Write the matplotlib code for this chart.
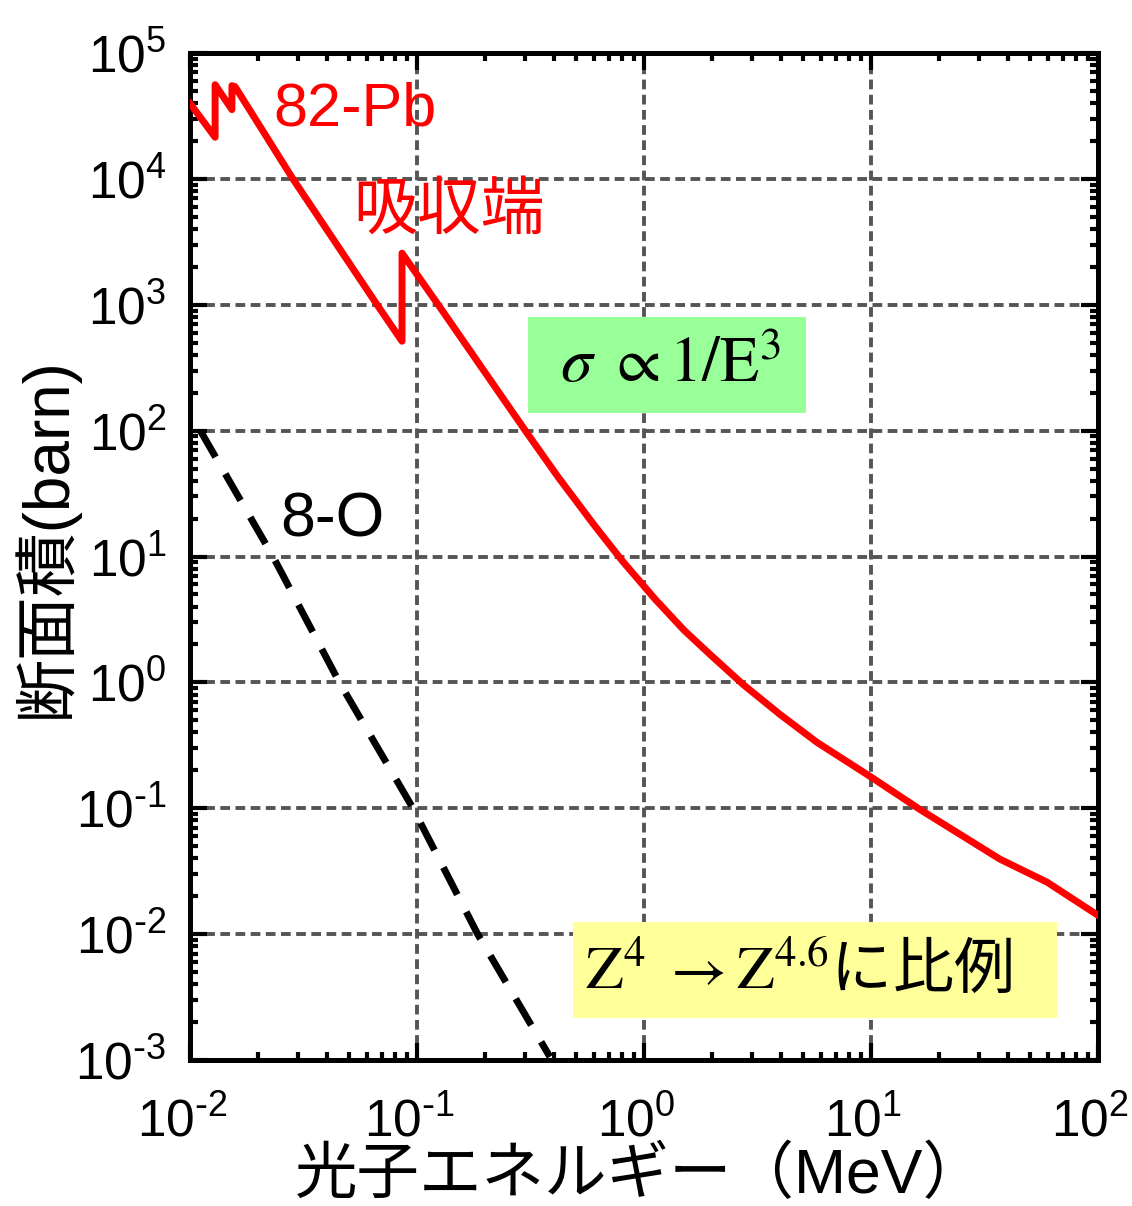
import numpy as np
import matplotlib
matplotlib.use("Agg")
import matplotlib.pyplot as plt
import matplotlib.transforms as mtransforms
from matplotlib.patches import Rectangle
from matplotlib.ticker import LogLocator, FuncFormatter, NullFormatter

plt.rcParams['font.family'] = ['Liberation Sans', 'Noto Sans CJK JP', 'DejaVu Sans']
plt.rcParams['axes.unicode_minus'] = False

# Pb photoelectric cross section (MeV, barn), L and K edges included
pb_energy = [0.0100, 0.0129, 0.0129, 0.0153, 0.0153, 0.0158, 0.0284, 0.0667, 0.0859,
             0.0859, 0.124, 0.300, 0.420, 0.600, 0.800, 1.117, 1.50, 1.954, 2.73,
             3.97, 5.78, 9.91, 16.4, 37.0, 59.6, 100.0]
pb_sigma = [3.98e4, 2.14e4, 5.6e4, 3.55e4, 5.5e4, 5.4e4, 1.0e4, 1.0e3, 513,
            2570, 1.0e3, 100, 42.4, 18.0, 9.29, 4.6, 2.6, 1.667, 0.964,
            0.557, 0.334, 0.179, 0.098, 0.0394, 0.0259, 0.0141]

# O photoelectric cross section
o_energy = [0.0111, 0.0232, 0.0455, 0.096, 0.185, 0.385]
o_sigma = [100, 10, 1, 0.1, 0.01, 0.00106]

xlim = (1e-2, 1e2)
ylim = (1e-3, 1e5)

fig = plt.figure(figsize=(11.32, 12.06), dpi=100)
ax = fig.add_axes([190 / 1132, 1 - 1060 / 1206, 908 / 1132, 1007 / 1206])

ax.plot(pb_energy, pb_sigma, color='#ff0000', lw=5, zorder=3)
ax.plot(o_energy, o_sigma, color='black', lw=5, linestyle=(0, (4.4, 2.8)), zorder=3)

ax.set_xscale('log')
ax.set_yscale('log')
ax.set_xlim(*xlim)
ax.set_ylim(*ylim)


def sci(v, pos):
    e = int(round(np.log10(v)))
    if e < 0:
        return r'$\mathdefault{10^{\text{-}%d}}$' % (-e)
    return r'$\mathdefault{10^{%d}}$' % e


for axis in (ax.xaxis, ax.yaxis):
    axis.set_major_locator(LogLocator(base=10, numticks=20))
    axis.set_minor_locator(LogLocator(base=10, subs=np.arange(2, 10), numticks=100))
    axis.set_major_formatter(FuncFormatter(sci))
    axis.set_minor_formatter(NullFormatter())

ax.set_axisbelow(True)
ax.grid(which='major', color='#555555', lw=2.8, linestyle=(0, (2.5, 1.4)))

ax.tick_params(which='both', direction='in', top=True, right=True, width=3, colors='black')
ax.tick_params(which='major', length=12, labelsize=37)
ax.tick_params(which='minor', length=6)
ax.tick_params(axis='y', pad=17)
ax.tick_params(axis='x', pad=27)
for s in ax.spines.values():
    s.set_linewidth(3.6)

# x tick labels sit a little left of their ticks
shift = mtransforms.ScaledTranslation(-8 / 100, 0, fig.dpi_scale_trans)
for lab in ax.get_xticklabels():
    lab.set_transform(lab.get_transform() + shift)

ax.set_xlabel('光子エネルギー（MeV）', fontsize=45)
ax.xaxis.label.set_va('center')
ax.xaxis.set_label_coords(0.496, -0.115)

ax.set_ylabel('断面積(barn)', fontsize=46)
ax.yaxis.label.set_va('center')
ax.yaxis.set_label_coords(-0.160, 0.519)

# annotation boxes
ax.add_patch(Rectangle((0.372, 0.6425), 0.306, 0.0955, transform=ax.transAxes,
                       facecolor='#99ff99', edgecolor='none', zorder=1))
ax.add_patch(Rectangle((0.4218, 0.0417), 0.533, 0.0953, transform=ax.transAxes,
                       facecolor='#ffff99', edgecolor='none', zorder=1))

ax.text(0.529, 0.690, r'$\sigma\ \propto \mathrm{1/E}^{3}$', transform=ax.transAxes,
        fontsize=46, math_fontfamily='stix', ha='center', va='center', zorder=4)
ax.text(0.670, 0.089, r'$\mathrm{Z}^{4}\ \rightarrow\mathrm{Z}^{4.6}$に比例',
        transform=ax.transAxes, family='Noto Sans CJK JP', math_fontfamily='stix',
        fontsize=44, ha='center', va='center', zorder=4)

ax.text(0.0914, 0.9285, '82-Pb', transform=ax.transAxes, color='#ff0000',
        fontsize=44, ha='left', va='baseline', zorder=4)
ax.text(0.2852, 0.844, '吸収端', transform=ax.transAxes, color='#ff0000',
        family='Noto Sans CJK JP', fontsize=46, ha='center', va='center', zorder=4)
ax.text(0.0991, 0.5194, '8-O', transform=ax.transAxes, color='black',
        fontsize=45, ha='left', va='baseline', zorder=4)

fig.savefig('out.png', dpi=100)
